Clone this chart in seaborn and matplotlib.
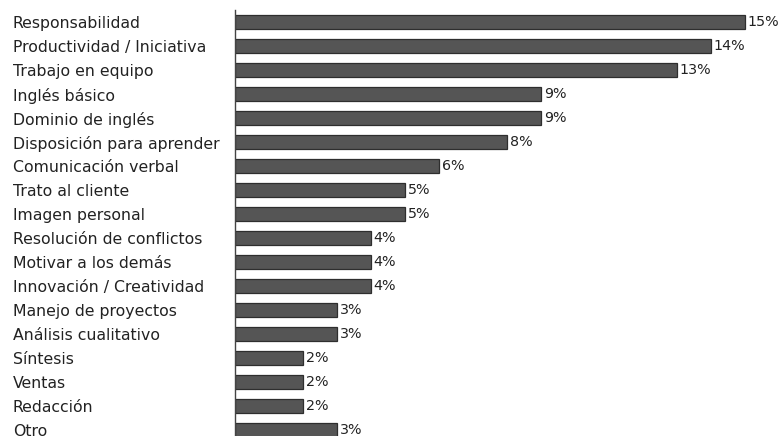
import matplotlib
matplotlib.use("Agg")
import matplotlib.pyplot as plt
import seaborn as sns
import pandas as pd

skills = [
    "Responsabilidad", "Productividad / Iniciativa", "Trabajo en equipo",
    "Inglés básico", "Dominio de inglés", "Disposición para aprender",
    "Comunicación verbal", "Trato al cliente", "Imagen personal",
    "Resolución de conflictos", "Motivar a los demás", "Innovación / Creatividad",
    "Manejo de proyectos", "Análisis cualitativo", "Síntesis", "Ventas",
    "Redacción", "Otro",
]
percent = [15, 14, 13, 9, 9, 8, 6, 5, 5, 4, 4, 4, 3, 3, 2, 2, 2, 3]

df = pd.DataFrame({"skill": skills, "pct": percent})

sns.set_theme(style="white")
plt.rcParams["font.family"] = ["DejaVu Sans"]

W, H = 782, 436
fig = plt.figure(figsize=(W / 100, H / 100), dpi=100)
ax = fig.add_axes([235 / W, 1 - 442 / H, 1 - 235 / W, 432 / H])

sns.barplot(data=df, y="skill", x="pct", orient="h", ax=ax,
            color="#555555", edgecolor="#2e2e2e", linewidth=0.9,
            width=0.58, saturation=1)

ax.set_xlim(0, (W - 235) / 34)
ax.set_ylim(len(skills) - 0.5, -0.5)
ax.set_xlabel("")
ax.set_ylabel("")
ax.set_xticks([])
for side in ("top", "right", "bottom"):
    ax.spines[side].set_visible(False)
ax.spines["left"].set_color("#444444")
ax.spines["left"].set_linewidth(1.0)

ax.tick_params(axis="y", length=0, pad=0)
ax.set_yticks(range(len(skills)))
ax.set_yticklabels(skills, fontsize=11.3, color="#222222", ha="left")
for lbl in ax.get_yticklabels():
    lbl.set_x(-222 / (W - 235))
for i, v in enumerate(percent):
    ax.text(v + 0.08, i, f"{v}%", va="center", ha="left",
            fontsize=10.3, color="#222222")

fig.savefig("out.png", dpi=100)
